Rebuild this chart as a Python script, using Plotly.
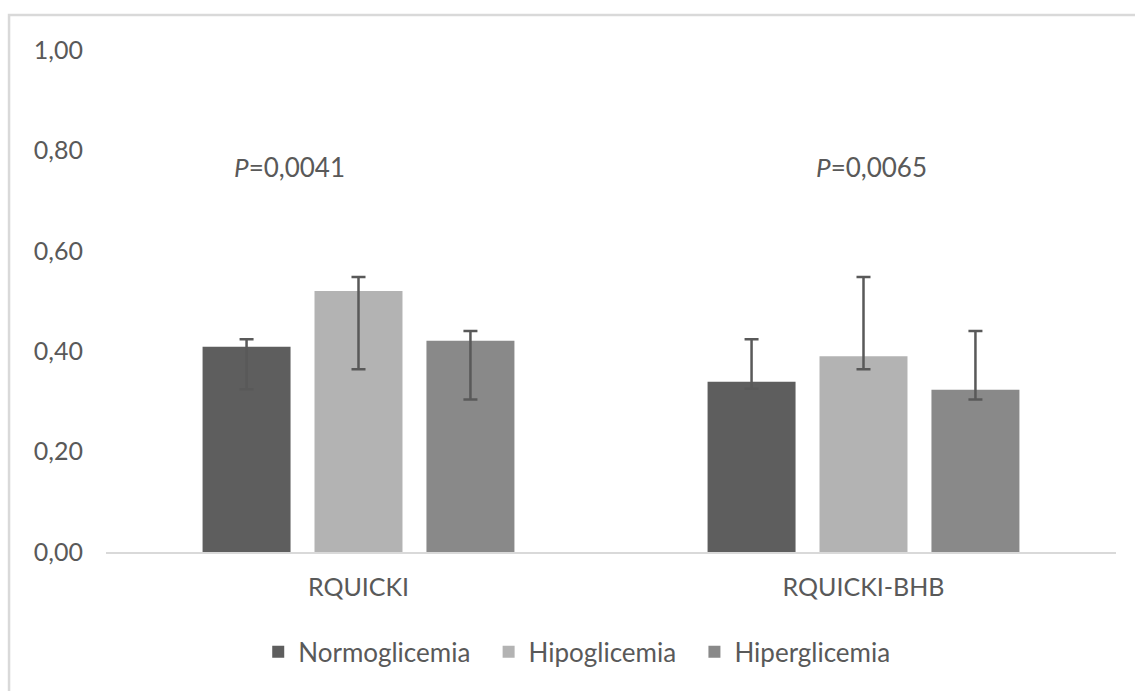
import plotly.graph_objects as go

categories = ["RQUICKI", "RQUICKI-BHB"]
series_names = ["Normoglicemia", "Hipoglicemia", "Hiperglicemia"]

normo_mean = [0.409, 0.339]
normo_upper = [0.424, 0.424]
normo_lower = [0.324, 0.325]

hipo_mean = [0.520, 0.390]
hipo_upper = [0.548, 0.548]
hipo_lower = [0.364, 0.364]

hiper_mean = [0.421, 0.323]
hiper_upper = [0.440, 0.440]
hiper_lower = [0.304, 0.304]

p_labels = ["<i>P</i>=0,0041", "<i>P</i>=0,0065"]
y_ticks = [0, 0.2, 0.4, 0.6, 0.8, 1.0]
y_tick_text = ["0,00", "0,20", "0,40", "0,60", "0,80", "1,00"]

colors = ["#5e5e5e", "#b3b3b3", "#898989"]
FONT = "Lato"
TXT = "#595959"
PAD = "\u00a0" * 2

fig = go.Figure()
for name, mean, up, lo, col in zip(
    series_names,
    [normo_mean, hipo_mean, hiper_mean],
    [normo_upper, hipo_upper, hiper_upper],
    [normo_lower, hipo_lower, hiper_lower],
    colors,
):
    fig.add_trace(go.Bar(
        name=name + PAD, x=categories, y=mean,
        marker=dict(color=col, line=dict(width=0)),
        error_y=dict(
            type="data", symmetric=False,
            array=[u - m for u, m in zip(up, mean)],
            arrayminus=[m - l for m, l in zip(mean, lo)],
            color="#595959", thickness=2.5, width=7,
        ),
    ))

for i, t in enumerate(p_labels):
    fig.add_annotation(
        x=[-0.136, 1.015][i], y=0.767, xref="x", yref="y",
        text=t, showarrow=False,
        font=dict(family=FONT, size=26, color=TXT),
    )

# chart-area border (left and top visible)
fig.add_shape(
    type="path", xref="paper", yref="paper",
    path="M -0.096 -0.5 L -0.096 1.0697 L 1.2 1.0697",
    line=dict(color="#d9d9d9", width=2.5),
)

fig.update_layout(
    width=1135, height=691,
    margin=dict(l=106, r=19, t=50, b=139),
    paper_bgcolor="white", plot_bgcolor="white",
    barmode="group", bargap=0.335, bargroupgap=0.214,
    font=dict(family=FONT, color=TXT, size=25),
    showlegend=True,
    legend=dict(
        orientation="h", x=0.473, xanchor="center", y=-0.199, yanchor="middle",
        font=dict(family=FONT, size=26, color=TXT),
    ),
    xaxis=dict(
        type="category", range=[-0.5, 1.5],
        showline=True, linecolor="#d9d9d9", linewidth=2,
        ticks="", showgrid=False,
        tickfont=dict(family=FONT, size=25, color=TXT),
        ticklabelstandoff=12,
    ),
    yaxis=dict(
        range=[0, 1.0], tickvals=y_ticks, ticktext=y_tick_text,
        showgrid=False, zeroline=False, showline=False, ticks="",
        tickfont=dict(family=FONT, size=25, color=TXT),
        ticklabelstandoff=22,
    ),
)

fig.write_html("out.html", config={"displayModeBar": False},
               post_script="document.body.style.margin='0';")
